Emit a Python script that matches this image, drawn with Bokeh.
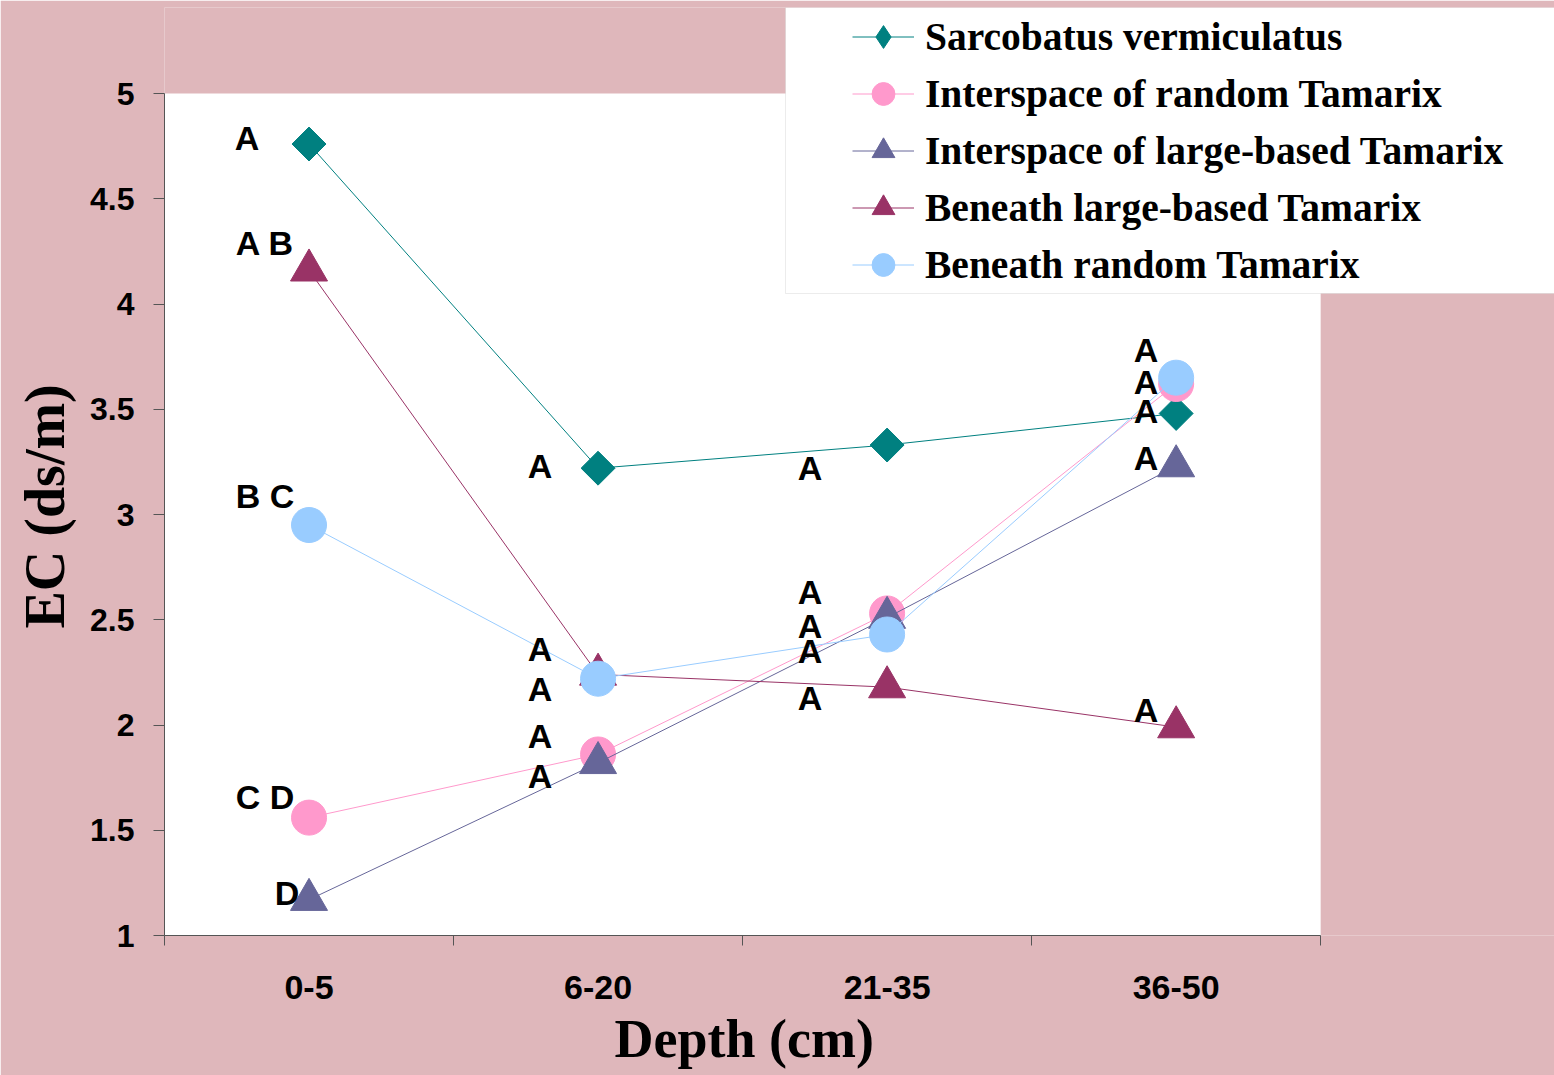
import math
from bokeh.plotting import figure
from bokeh.models import (Legend, LegendItem, FixedTicker, BoxAnnotation,
                          ColumnDataSource, Range1d, Title)
from bokeh.core.properties import value
from bokeh.embed import file_html
from bokeh.resources import INLINE

# ---------------- data ----------------
depths = ["0-5", "6-20", "21-35", "36-50"]
x_pos = [0.5, 1.5, 2.5, 3.5]

series_names = [
    "Sarcobatus vermiculatus",
    "Interspace of random Tamarix",
    "Interspace of large-based Tamarix",
    "Beneath large-based Tamarix",
    "Beneath random Tamarix",
]
sarcobatus = [4.76, 3.22, 3.33, 3.48]
inter_random = [1.56, 1.86, 2.53, 3.62]
inter_large = [1.17, 1.82, 2.51, 3.23]
beneath_large = [4.16, 2.24, 2.18, 1.99]
beneath_random = [2.95, 2.22, 2.43, 3.65]

y_ticks = [1, 1.5, 2, 2.5, 3, 3.5, 4, 4.5, 5]
x_title = "Depth (cm)"
y_title = "EC (ds/m)"

# significance letters: text, depth index, vertical position (EC units)
letter_text = ["A", "A B", "B C", "C D", "D",
               "A", "A", "A", "A", "A",
               "A", "A", "A", "A", "A",
               "A", "A", "A", "A", "A"]
letter_depth = [0, 0, 0, 0, 0,
                1, 1, 1, 1, 1,
                2, 2, 2, 2, 2,
                3, 3, 3, 3, 3]
letter_y = [4.79, 4.29, 3.09, 1.66, 1.20,
            3.23, 2.36, 2.17, 1.95, 1.76,
            3.22, 2.63, 2.47, 2.35, 2.13,
            3.78, 3.63, 3.49, 3.27, 2.07]
# horizontal pixel offsets of the letters from their depth centre (style)
letter_dx = [-62, -44, -44, -44, -22,
             -58, -58, -58, -58, -58,
             -77, -77, -77, -77, -77,
             -30, -30, -30, -30, -30]

# ---------------- layout / styles ----------------
W, H = 1554, 1075
PLOT_L, PLOT_R, PLOT_T, PLOT_B = 163, 1320, 93, 935   # white plot area (px)
FRAME_T = 7                                           # frame reaches up to legend top
px_x = (PLOT_R - PLOT_L) / 4.0
px_y = (PLOT_B - PLOT_T) / 4.0
x_end = (W - PLOT_L) / px_x
y_end = 1 + (PLOT_B - FRAME_T) / px_y

colors = ["#008080", "#FF99CC", "#666699", "#993366", "#99CCFF"]
markers = ["square", "circle", "triangle", "triangle", "circle"]
legend_markers = ["diamond", "circle", "triangle", "triangle", "circle"]
sizes = [24, 35, 37, 37, 35]
angles = [math.pi / 4, 0, 0, 0, 0]
values_list = [sarcobatus, inter_random, inter_large, beneath_large, beneath_random]

BG = "#dfb7bb"
AX = "#555555"

p = figure(width=W, height=H,
           x_range=Range1d(0, x_end), y_range=Range1d(1, y_end),
           output_backend="svg", toolbar_location=None,
           min_border_left=PLOT_L, min_border_right=0,
           min_border_top=FRAME_T, min_border_bottom=H - PLOT_B)
p.background_fill_color = BG
p.border_fill_color = BG
p.outline_line_color = None
p.xgrid.visible = False
p.ygrid.visible = False

# white plot area
p.add_layout(BoxAnnotation(left=0, right=4, bottom=1, top=5,
                           fill_color="white", fill_alpha=1.0,
                           line_color=None, level="underlay"))

# x axis: labels at category centres, ticks at boundaries (minor ticks)
xa = p.xaxis[0]
xa.bounds = (0, 4)
xa.ticker = FixedTicker(ticks=x_pos, minor_ticks=[0, 1, 2, 3, 4])
xa.major_label_overrides = {x: d for x, d in zip(x_pos, depths)}
xa.major_tick_out = 0
xa.major_tick_in = 0
xa.minor_tick_out = 10
xa.minor_tick_in = 0
xa.minor_tick_line_color = AX
xa.axis_line_color = AX
xa.major_label_text_font = "Liberation Sans"
xa.major_label_text_font_style = "bold"
xa.major_label_text_font_size = "34px"
xa.major_label_text_color = "black"
xa.major_label_standoff = 30

ya = p.yaxis[0]
ya.bounds = (1, 5)
ya.ticker = FixedTicker(ticks=y_ticks, minor_ticks=[])
ya.major_label_overrides = {t: ("%g" % t) for t in y_ticks}
ya.major_tick_out = 11
ya.major_tick_in = 0
ya.major_tick_line_color = AX
ya.axis_line_color = AX
ya.major_label_text_font = "Liberation Sans"
ya.major_label_text_font_style = "bold"
ya.major_label_text_font_size = "32px"
ya.major_label_text_color = "black"
ya.major_label_standoff = 19

# axis titles, positioned relative to the white plot area
p.add_layout(Title(text=x_title, align="left", offset=450, standoff=10,
                   text_font="Liberation Serif", text_font_style="bold",
                   text_font_size="54px", text_color="black"), "below")
p.add_layout(Title(text=y_title, align="left", offset=307, standoff=23,
                   text_font="Liberation Serif", text_font_style="bold",
                   text_font_size="56px", text_color="black"), "left")

items = []
for name, vals, c, m, lm, s, a in zip(series_names, values_list, colors, markers,
                                      legend_markers, sizes, angles):
    src = ColumnDataSource(dict(x=x_pos, y=vals))
    lr = p.line("x", "y", source=src, line_color=c, line_width=1)
    mk = []
    if lm != m:
        # legend marker shape, hidden beneath the plotted rotated square
        mk.append(p.scatter("x", "y", source=src, marker=lm, size=18,
                            fill_color=c, line_color=c, line_width=1))
    sr = p.scatter("x", "y", source=src, marker=m, size=s, angle=a,
                   fill_color=c, line_color=c, line_width=1)
    if not mk:
        mk.append(sr)
    items.append(LegendItem(label=name, renderers=[lr] + mk))

lsrc = ColumnDataSource(dict(
    x=[x_pos[i] for i in letter_depth], y=letter_y,
    text=letter_text, dx=letter_dx))
p.text("x", "y", text="text", source=lsrc, x_offset="dx",
       text_align="center", text_baseline="middle",
       text_font=value("Liberation Sans"), text_font_style="bold",
       text_font_size="34px", text_color="black")

# legend box (white panel)
p.add_layout(BoxAnnotation(left=785, right=W + 10, top=7, bottom=293,
                           left_units="canvas", right_units="canvas",
                           top_units="canvas", bottom_units="canvas",
                           fill_color="white", fill_alpha=1.0,
                           line_color="#c0c0c0", line_width=1))

legend = Legend(items=items, location=(851 - PLOT_L, PLOT_B - 293),
                orientation="vertical",
                padding=0, margin=0, spacing=0,
                glyph_width=62, glyph_height=57, label_height=57,
                label_standoff=11,
                label_text_font="Liberation Serif", label_text_font_style="bold",
                label_text_font_size="39.5px", label_text_color="black",
                background_fill_alpha=0, border_line_alpha=0)
p.add_layout(legend)

open("out.html", "w").write(file_html(p, INLINE))
